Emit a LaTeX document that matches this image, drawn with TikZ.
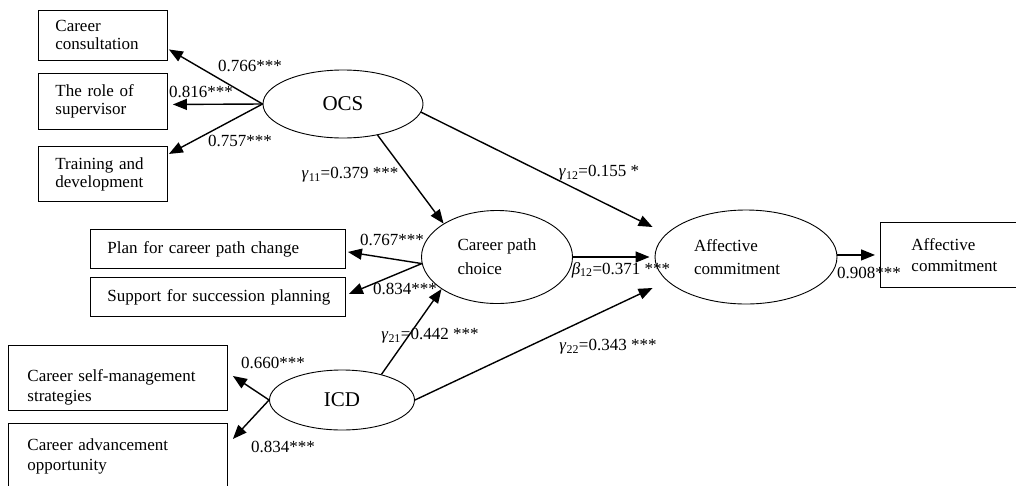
\documentclass[tikz,border=0pt]{standalone}
\usepackage{fontspec}
\setmainfont{Liberation Serif}
\usetikzlibrary{positioning, arrows.meta, shapes.geometric}

\begin{document}
\begin{tikzpicture}[
  x=1pt, y=-1pt,
  font=\fontsize{17}{18}\selectfont,
  obs/.style={draw, line width=0.9pt, align=left, anchor=north west,
    inner xsep=17pt, inner ysep=0pt},
  lat/.style={draw, ellipse, line width=0.9pt, inner sep=0pt},
  path/.style={-{Triangle[length=14pt, width=11pt]}, line width=1.4pt},
  coef/.style={inner sep=0pt}
]
\clip (0,0) rectangle (1016,485);

% --- latent variables (ellipses) ---
\node[lat, minimum width=160pt, minimum height=68pt, font=\fontsize{21}{24}\selectfont] (ocs) at (343,104) {OCS};
\node[lat, minimum width=151pt, minimum height=93pt, align=left, font=\fontsize{17}{24}\selectfont] (cpc) at (497,257) {Career path\\choice};
\node[lat, minimum width=182pt, minimum height=94pt, align=left, font=\fontsize{17}{23}\selectfont] (ac) at (746,257) {Affective\\commitment\hspace*{18pt}};
\node[lat, minimum width=145pt, minimum height=60pt, font=\fontsize{21}{24}\selectfont] (icd) at (342,400) {ICD};

% --- observed indicators (boxes) ---
\node[obs, text width=95pt, minimum height=50pt] (cc) at (38,10) {Career\\consultation};
\node[obs, text width=95pt, minimum height=56pt] (rs) at (38,73) {The role of\\supervisor};
\node[obs, text width=95pt, minimum height=55pt] (td) at (38,146) {Training and\\development};
\node[obs, text width=221pt, minimum height=39pt] (pc) at (90,229) {Plan for career path change};
\node[obs, text width=221pt, minimum height=39pt] (ss) at (90,277) {\mbox{Support for succession planning}};
\node[obs, inner xsep=19pt, text width=181pt, minimum height=65pt, text height=30pt, font=\fontsize{17}{20}\selectfont] (sm) at (8,345) {Career self-management\\strategies};
\node[obs, inner xsep=19pt, text width=181pt, minimum height=65pt, font=\fontsize{17}{20}\selectfont] (ca) at (8,423) {Career advancement\\opportunity};
\node[obs, inner xsep=31pt, text width=150pt, minimum height=65pt, font=\fontsize{17}{21}\selectfont] (acb) at (880,222) {Affective\\commitment};

% --- measurement paths ---
\draw[path] (ocs.west) -- ([xshift=1pt,yshift=-14pt]cc.east);
\draw[path] (ocs.west) -- ([xshift=5pt,yshift=-3pt]rs.east);
\draw[path] (ocs.west) -- ([xshift=1pt,yshift=20pt]td.east);
\draw[path] (cpc.185) -- ([xshift=2pt,yshift=-3pt]pc.east);
\draw[path] (cpc.185) -- ([xshift=3pt,yshift=3pt]ss.east);
\draw[path] (icd.west) -- ([xshift=5pt,yshift=2pt]sm.east);
\draw[path] (icd.west) -- ([xshift=5pt,yshift=17pt]ca.east);
\draw[path] (ac.east |- acb.west) -- ([xshift=-5pt]acb.west);

% --- structural paths ---
\draw[path] (ocs.-42) -- (cpc.148);
\draw[path] (ocs.-6) -- ([xshift=-2pt,yshift=30pt]ac.west);
\draw[path] (cpc.east) -- ([xshift=-5pt]ac.west);
\draw[path] (icd.33) -- (cpc.210);
\draw[path] (icd.east) -- ([xshift=-2pt,yshift=-31pt]ac.west);

% --- coefficients ---
\node[coef] (l-cc) at (250,66) {0.766***};
\node[coef] (l-rs) at (201,92) {0.816***};
\node[coef] (l-td) at (240,141) {0.757***};
\node[coef] (l-pc) at (392,240) {0.767***};
\node[coef] (l-ss) at (405,289) {0.834***};
\node[coef] (l-sm) at (273,363) {0.660***};
\node[coef] (l-ca) at (283,447) {0.834***};
\node[coef] (l-acb) at (869,273) {0.908***};
\node[coef] (g11) at (350,175) {\textit{γ}\textsubscript{11}=0.379 ***};
\node[coef] (g12) at (599,173) {\textit{γ}\textsubscript{12}=0.155 *};
\node[coef] (b12) at (621,270) {\textit{β}\textsubscript{12}=0.371 ***};
\node[coef] (g21) at (430,336) {\textit{γ}\textsubscript{21}=0.442 ***};
\node[coef] (g22) at (608,347) {\textit{γ}\textsubscript{22}=0.343 ***};

\end{tikzpicture}
\end{document}
